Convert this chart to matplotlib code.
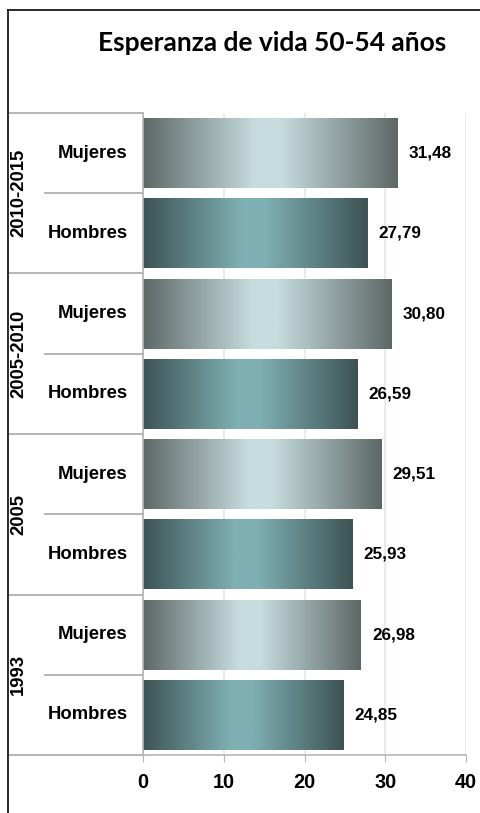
import matplotlib.pyplot as plt
import numpy as np
from matplotlib.colors import LinearSegmentedColormap
from matplotlib.lines import Line2D
import matplotlib.transforms as mtransforms

# Data, top to bottom
periods = ['2010-2015', '2005-2010', '2005', '1993']
sexes = ['Mujeres', 'Hombres']
mujeres = [31.48, 30.80, 29.51, 26.98]
hombres = [27.79, 26.59, 25.93, 24.85]
xticks = [0, 10, 20, 30, 40]

plt.rcParams['font.family'] = ['Liberation Sans', 'DejaVu Sans']

cmap_m = LinearSegmentedColormap.from_list(
    'm', [(0, '#5d6866'), (0.44, '#c6dcdf'), (0.54, '#c6dcdf'), (1, '#5d6866')])
cmap_h = LinearSegmentedColormap.from_list(
    'h', [(0, '#3d5355'), (0.44, '#7fb0b3'), (0.54, '#7fb0b3'), (1, '#3d5355')])

fig = plt.figure(figsize=(4.8, 8.13), dpi=100)
ax = fig.add_axes([143 / 480, 1 - 755 / 813, 323 / 480, 642 / 813])

values = []
cmaps = []
for m, h in zip(mujeres, hombres):
    values += [m, h]
    cmaps += [cmap_m, cmap_h]
ypos = np.arange(len(values))

bars = ax.barh(ypos, values, height=0.87, color='none', edgecolor='none', zorder=2)
grad = np.linspace(0, 1, 256).reshape(1, -1)
for bar, cm, v in zip(bars, cmaps, values):
    x0, y0 = bar.get_x(), bar.get_y()
    w, hgt = bar.get_width(), bar.get_height()
    im = ax.imshow(grad, extent=[x0, x0 + w, y0, y0 + hgt], aspect='auto',
                   cmap=cm, zorder=2, interpolation='bicubic')
    im.set_clip_path(bar)
    ax.annotate(f'{v:.2f}'.replace('.', ','), (x0 + w, y0 + hgt / 2),
                xytext=(8, 0), textcoords='offset points', ha='left', va='center',
                fontsize=12.3, fontweight='bold')

ax.set_xlim(0, 40)
ax.set_ylim(len(values) - 0.5, -0.5)
ax.set_xticks(xticks)
ax.set_xticklabels([str(t) for t in xticks], fontsize=14.3, fontweight='bold')
ax.set_yticks([])
ax.xaxis.grid(True, color='#dfe9ec', linewidth=1.2, zorder=0)
ax.set_axisbelow(True)
ax.tick_params(axis='x', length=5, color='#b5b5b5', pad=8)
for s in ['top', 'right']:
    ax.spines[s].set_visible(False)
for s in ['left', 'bottom']:
    ax.spines[s].set_color('#b5b5b5')
    ax.spines[s].set_linewidth(1.2)

# Multi-level category labels
trans = mtransforms.blended_transform_factory(ax.transAxes, ax.transData)
for i, y in enumerate(ypos):
    ax.text(-0.047, y, sexes[i % 2], transform=trans, ha='right', va='center',
            fontsize=13.3, fontweight='bold')
for g, p in enumerate(periods):
    ax.text(-0.385, 2 * g + 0.5, p, transform=trans, ha='center', va='center',
            rotation=90, fontsize=13.3, fontweight='bold')
for g in range(len(periods) + 1):
    ax.add_line(Line2D([-0.418, 0], [2 * g - 0.5] * 2, transform=trans,
                       color='#a8a8a8', linewidth=1.2, clip_on=False))
for g in range(len(periods)):
    ax.add_line(Line2D([-0.303, 0], [2 * g + 0.5] * 2, transform=trans,
                       color='#a8a8a8', linewidth=1.2, clip_on=False))

fig.text(272 / 480, 1 - 43 / 813, 'Esperanza de vida 50-54 años', ha='center', va='center',
         fontsize=19, fontweight='bold', family=['Lato', 'DejaVu Sans'])

# Chart area border (left and top visible)
fig.add_artist(Line2D([8 / 480, 8 / 480], [0, 1 - 10 / 813], transform=fig.transFigure,
                      color='#1a1a1a', linewidth=1.3))
fig.add_artist(Line2D([8 / 480, 1], [1 - 10 / 813] * 2, transform=fig.transFigure,
                      color='#1a1a1a', linewidth=1.3))

fig.savefig('out.png', dpi=100)
